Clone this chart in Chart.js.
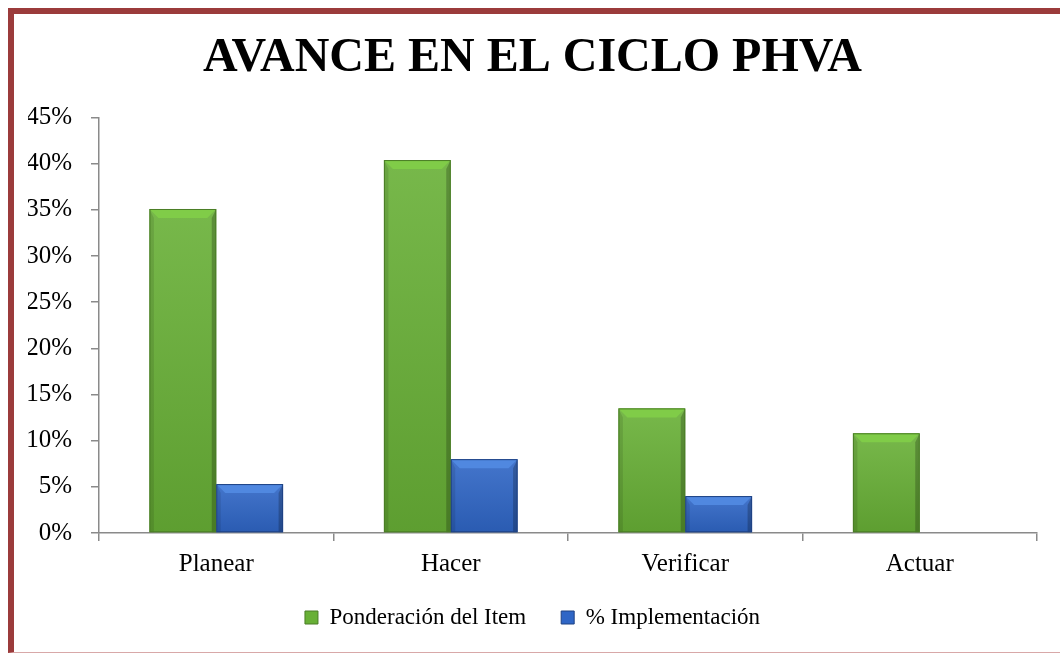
<!DOCTYPE html>
<html>
<head>
<meta charset="utf-8">
<script src="https://cdn.jsdelivr.net/npm/chart.js@4.4.1/dist/chart.umd.min.js"></script>
<style>
    html, body { margin: 0; padding: 0; background: #fff; }
    #wrap { position: absolute; left: 0; top: 0; width: 1060px; height: 654px; }
    #frame {
        position: absolute; left: 8px; top: 8px; width: 1060px; height: 645px;
        box-sizing: border-box; pointer-events: none;
        border-left: 6px solid #9b3b3b; border-top: 6px solid #9b3b3b;
        border-bottom: 1px solid #d8a8a8;
    }
</style>
</head>
<body>
<div id="wrap"><canvas id="phvaChart" width="1060" height="654"></canvas></div>
<div id="frame"></div>
<script>
var categories = ['Planear', 'Hacer', 'Verificar', 'Actuar'];
var ponderacion = [35.1, 40.4, 13.5, 10.8];
var implementacion = [5.3, 8.0, 4.0, 0];
var seriesNames = ['Ponderación del Item', '% Implementación'];
var yMax = 45;
var yStep = 5;

var serif = "'Liberation Serif', 'Times New Roman', serif";
var axisGray = '#8a8a8a';

// bevel look like the office chart
var bevelPlugin = {
    id: 'bevel',
    afterDatasetsDraw: function (chart) {
        var ctx = chart.ctx;
        chart.data.datasets.forEach(function (ds, i) {
            var meta = chart.getDatasetMeta(i);
            meta.data.forEach(function (bar) {
                var p = bar.getProps(['x', 'y', 'base', 'width'], true);
                var h = p.base - p.y;
                if (h < 2) return;
                var l = p.x - p.width / 2, r = p.x + p.width / 2, t = p.y, b = p.base;
                var d = Math.min(9, h / 2);
                ctx.save();
                var g = ctx.createLinearGradient(0, t, 0, b);
                g.addColorStop(0, 'rgba(255,255,255,0.10)');
                g.addColorStop(1, 'rgba(0,0,0,0.10)');
                ctx.fillStyle = g;
                ctx.fillRect(l, t, p.width, h);
                ctx.fillStyle = ds.bevelLight;
                ctx.beginPath();
                ctx.moveTo(l, t); ctx.lineTo(r, t); ctx.lineTo(r - d, t + d); ctx.lineTo(l + d, t + d);
                ctx.closePath(); ctx.fill();
                ctx.fillStyle = 'rgba(0,0,0,0.10)';
                ctx.beginPath();
                ctx.moveTo(l, t); ctx.lineTo(l + d * 0.5, t + d); ctx.lineTo(l + d * 0.5, b); ctx.lineTo(l, b);
                ctx.closePath(); ctx.fill();
                ctx.fillStyle = 'rgba(0,0,0,0.22)';
                ctx.beginPath();
                ctx.moveTo(r, t); ctx.lineTo(r - d * 0.5, t + d); ctx.lineTo(r - d * 0.5, b); ctx.lineTo(r, b);
                ctx.closePath(); ctx.fill();
                ctx.strokeStyle = ds.borderColor;
                ctx.lineWidth = 1;
                ctx.strokeRect(l + 0.5, t + 0.5, p.width - 1, h - 1);
                ctx.restore();
            });
        });
    }
};

var ctx = document.getElementById('phvaChart').getContext('2d');
new Chart(ctx, {
    type: 'bar',
    data: {
        labels: categories,
        datasets: [{
            label: seriesNames[0],
            data: ponderacion,
            backgroundColor: '#68b036',
            borderColor: '#4a7d26',
            bevelLight: '#80cc48',
            borderWidth: 0,
            categoryPercentage: 0.57,
            barPercentage: 1.0
        }, {
            label: seriesNames[1],
            data: implementacion,
            backgroundColor: '#2f66c6',
            borderColor: '#1f4283',
            bevelLight: '#5088e0',
            borderWidth: 0,
            categoryPercentage: 0.57,
            barPercentage: 1.0
        }]
    },
    options: {
        responsive: false,
        animation: false,
        layout: { padding: { left: 28, right: 23, top: 0, bottom: 15 } },
        plugins: {
            title: {
                display: true,
                text: 'AVANCE EN EL CICLO PHVA',
                color: '#000',
                font: { family: serif, size: 48, weight: 'bold', lineHeight: 1.2 },
                padding: { top: 30, bottom: 30 }
            },
            legend: {
                position: 'bottom',
                labels: {
                    color: '#000',
                    font: { family: serif, size: 23 },
                    boxWidth: 13,
                    boxHeight: 13,
                    padding: 35,
                    generateLabels: function (chart) {
                        return chart.data.datasets.map(function (ds, i) {
                            return {
                                text: ds.label,
                                fillStyle: ds.backgroundColor,
                                strokeStyle: ds.borderColor,
                                lineWidth: 1,
                                fontColor: '#000',
                                datasetIndex: i
                            };
                        });
                    }
                }
            },
            tooltip: { enabled: false }
        },
        scales: {
            x: {
                afterFit: function (scale) { scale.height = 38; },
                grid: {
                    offset: true,
                    drawOnChartArea: false,
                    drawTicks: true,
                    tickLength: 8,
                    color: axisGray,
                    lineWidth: 1.5
                },
                border: { color: axisGray, width: 1.5 },
                ticks: {
                    color: '#000',
                    padding: 11,
                    font: { family: serif, size: 25, lineHeight: 1.0 }
                }
            },
            y: {
                min: 0,
                max: yMax,
                afterFit: function (scale) { scale.width = 71; },
                grid: {
                    drawOnChartArea: false,
                    drawTicks: true,
                    tickLength: 8,
                    color: axisGray,
                    lineWidth: 1.5
                },
                border: { color: axisGray, width: 1.5 },
                ticks: {
                    stepSize: yStep,
                    color: '#000',
                    padding: 19,
                    font: { family: serif, size: 25 },
                    callback: function (v) { return v + '%'; }
                }
            }
        }
    },
    plugins: [bevelPlugin]
});
</script>
</body>
</html>
